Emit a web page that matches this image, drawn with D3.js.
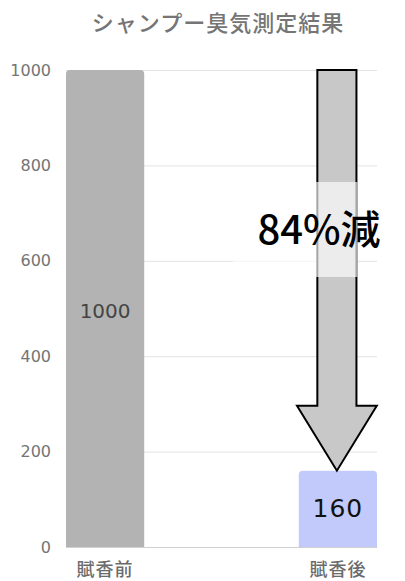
<!DOCTYPE html>
<html>
<head>
<meta charset="utf-8">
<script src="https://cdn.jsdelivr.net/npm/d3@7"></script>
<style>
  body { margin: 0; background: #fff; }
</style>
</head>
<body>
<script>
var categories = ["賦香前", "賦香後"];
var values = [1000, 160];
var barColors = ["#b3b3b3", "#c2cafc"];
var yTicks = [0, 200, 400, 600, 800, 1000];
var arrowFrom = 1000, arrowHeadAt = 296, arrowTo = 160;
var reductionLabel = "84%減";

var width = 405, height = 581;
var margin = {top: 70, right: 28, bottom: 34, left: 66};
var jp = "'Noto Sans CJK JP', sans-serif";
var num = "'DejaVu Sans', sans-serif";

var svg = d3.select("body").append("svg")
    .attr("width", width).attr("height", height);

var x = d3.scaleBand()
    .domain(categories)
    .range([margin.left, width - margin.right])
    .paddingInner(0.664).paddingOuter(0);

var y = d3.scaleLinear()
    .domain([0, 1000])
    .range([height - margin.bottom, margin.top]);

// title
svg.append("text")
    .attr("x", 218).attr("y", 31)
    .attr("text-anchor", "middle")
    .style("font-family", jp)
    .style("font-size", "22px")
    .style("font-weight", 500)
    .style("letter-spacing", "1px")
    .attr("fill", "#757575")
    .text("シャンプー臭気測定結果");

// gridlines
svg.append("g").selectAll("line")
    .data(yTicks.filter(function(d) { return d > 0; }))
    .enter().append("line")
    .attr("x1", margin.left).attr("x2", width - margin.right)
    .attr("y1", function(d) { return y(d) + 0.5; })
    .attr("y2", function(d) { return y(d) + 0.5; })
    .attr("stroke", "#e3e3e3");

// y axis labels
var yAxis = d3.axisLeft(y).tickValues(yTicks).tickFormat(d3.format("d")).tickSize(0).tickPadding(15);
var yg = svg.append("g").attr("transform", "translate(" + margin.left + ",0)").call(yAxis);
yg.select(".domain").remove();
yg.selectAll("text")
    .style("font-family", num)
    .style("font-size", "16px")
    .attr("fill", "#747474");

// bars with rounded top corners
function barPath(d, i) {
  var x0 = x(categories[i]), w = x.bandwidth();
  var yt = y(d), yb = y(0), r = 4;
  return "M" + x0 + "," + yb + "V" + (yt + r) +
    "Q" + x0 + "," + yt + " " + (x0 + r) + "," + yt +
    "H" + (x0 + w - r) + "Q" + (x0 + w) + "," + yt + " " + (x0 + w) + "," + (yt + r) +
    "V" + yb + "Z";
}
svg.append("g").selectAll("path")
    .data(values)
    .enter().append("path")
    .attr("d", barPath)
    .attr("fill", function(d, i) { return barColors[i]; });

// baseline
svg.append("line")
    .attr("x1", margin.left).attr("x2", width - margin.right)
    .attr("y1", y(0) + 0.5).attr("y2", y(0) + 0.5)
    .attr("stroke", "#d0d0d0");

// x labels
var xAxis = d3.axisBottom(x).tickSize(0).tickPadding(16);
var xg = svg.append("g").attr("transform", "translate(0," + y(0) + ")").call(xAxis);
xg.select(".domain").remove();
xg.selectAll("text")
    .style("font-family", jp)
    .style("font-size", "18px")
    .style("font-weight", 500)
    .style("letter-spacing", "1px")
    .attr("fill", "#6b6b6b");

// bar value labels
svg.append("text")
    .attr("x", x(categories[0]) + x.bandwidth() / 2)
    .attr("y", y(values[0] / 2) + 4)
    .attr("text-anchor", "middle")
    .attr("dominant-baseline", "middle")
    .style("font-family", num)
    .style("font-size", "20px")
    .attr("fill", "#444")
    .text(values[0]);

svg.append("text")
    .attr("x", x(categories[1]) + x.bandwidth() / 2)
    .attr("y", y(values[1] / 2) + 1)
    .attr("text-anchor", "middle")
    .attr("dominant-baseline", "middle")
    .style("font-family", num)
    .style("font-size", "25px")
    .style("font-weight", 500)
    .style("letter-spacing", "1px")
    .attr("fill", "#111")
    .text(values[1]);

// reduction arrow
var cx = x(categories[1]) + x.bandwidth() / 2 - 1;
var sw = x.bandwidth() * 0.25, hw = x.bandwidth() * 0.51;
var arrow = d3.path();
arrow.moveTo(cx - sw, y(arrowFrom));
arrow.lineTo(cx + sw, y(arrowFrom));
arrow.lineTo(cx + sw, y(arrowHeadAt));
arrow.lineTo(cx + hw, y(arrowHeadAt));
arrow.lineTo(cx, y(arrowTo));
arrow.lineTo(cx - hw, y(arrowHeadAt));
arrow.lineTo(cx - sw, y(arrowHeadAt));
arrow.closePath();
svg.append("path")
    .attr("d", arrow.toString())
    .attr("fill", "#c8c8c8")
    .attr("stroke", "#000")
    .attr("stroke-width", 2)
    .attr("stroke-linejoin", "miter");

// label box + label
svg.append("rect")
    .attr("x", 233).attr("y", 182)
    .attr("width", cx + sw - 233 + 1).attr("height", 95)
    .attr("fill", "#fff").attr("opacity", 0.65);

svg.append("text")
    .attr("x", 319).attr("y", 244)
    .attr("text-anchor", "middle")
    .style("font-family", jp)
    .style("font-size", "40px")
    .style("font-weight", 500)
    .attr("fill", "#000")
    .text(reductionLabel);
</script>
</body>
</html>
